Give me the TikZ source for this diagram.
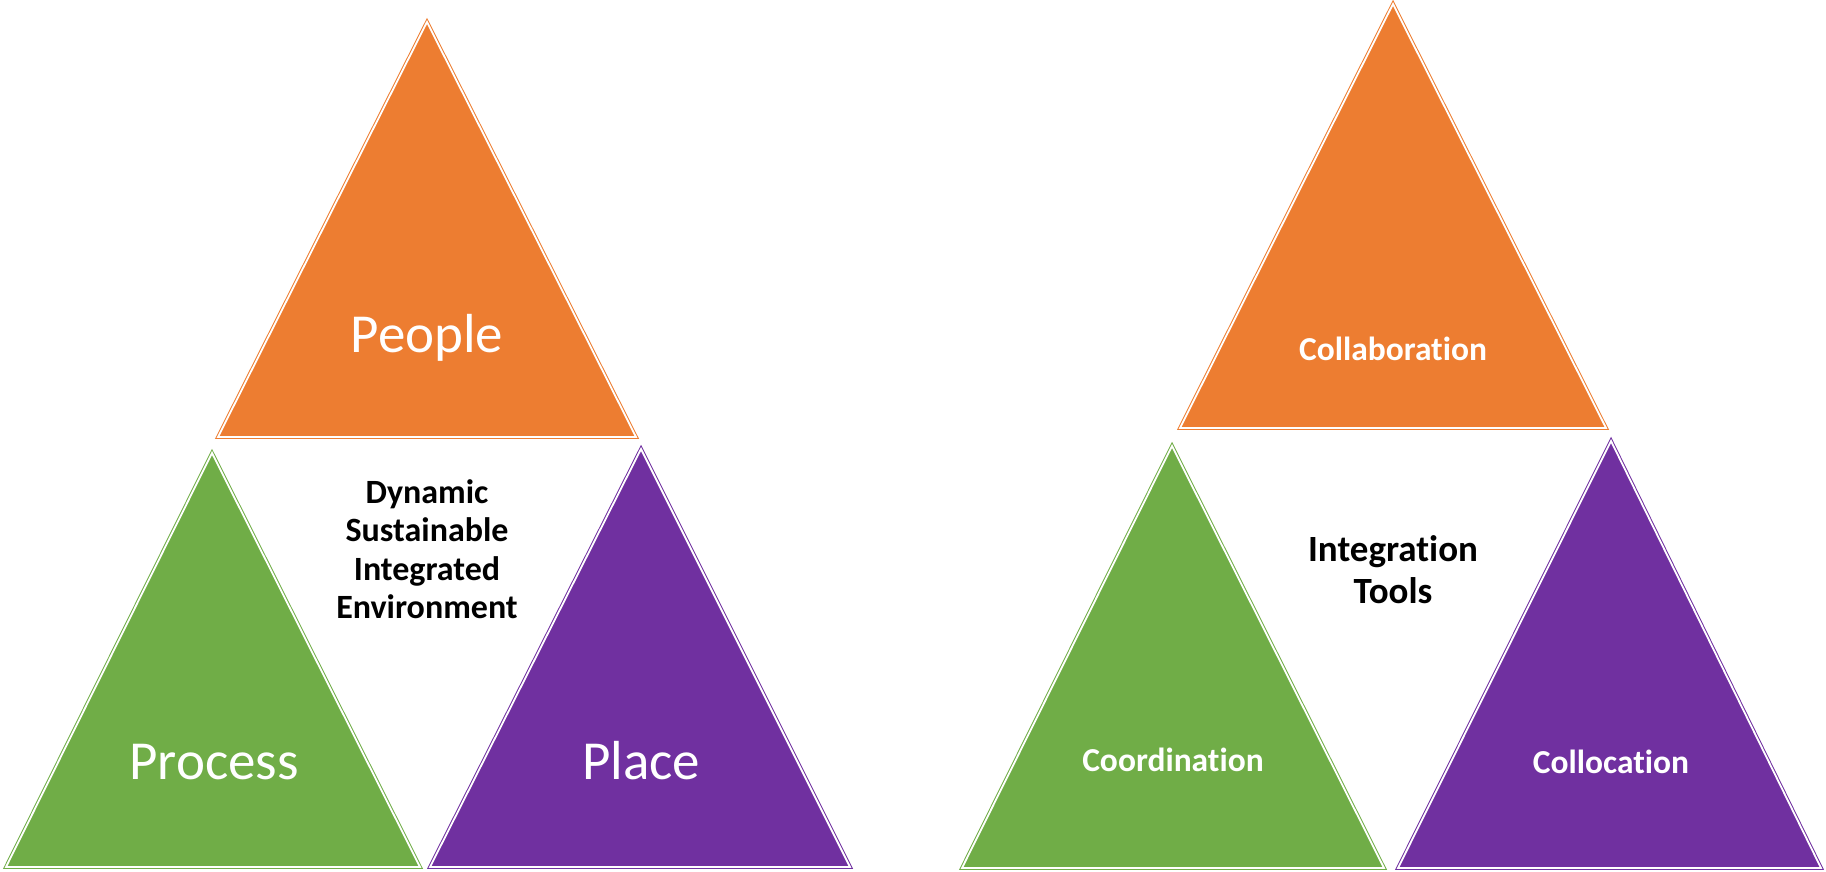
\documentclass[tikz,border=0pt]{standalone}
\usepackage{fontspec}
\setmainfont[Ligatures=NoCommon]{Carlito}
\definecolor{corange}{HTML}{ED7D31}
\definecolor{cgreen}{HTML}{70AD47}
\definecolor{cpurple}{HTML}{7030A0}
\begin{document}
\begin{tikzpicture}[x=1pt,y=-1pt,
  tri/.style={fill=#1, draw=#1, double=white, double distance=1.8pt, line width=1pt, line join=miter},
  bigtext/.style={text=white, font=\fontsize{55}{66}\selectfont, inner sep=0, anchor=base},
  smalltext/.style={text=white, font=\bfseries\fontsize{33.5}{40}\selectfont, inner sep=0, anchor=base},
  midtext/.style={text=black, font=\bfseries\fontsize{#1}{#1}\selectfont, inner sep=0, align=center}]
\useasboundingbox (0,0) rectangle (1826,871);
% left group vertices
\coordinate (pa) at (427,22);  \coordinate (pl) at (218,437);  \coordinate (pr) at (636,437);
\coordinate (ra) at (212,453); \coordinate (rl) at (6,867);    \coordinate (rr) at (420,867);
\coordinate (la) at (641,449); \coordinate (ll) at (430,867);  \coordinate (lr) at (850,867);
% right group vertices
\coordinate (ca) at (1393,4);  \coordinate (cl) at (1180,428); \coordinate (cr) at (1606,428);
\coordinate (oa) at (1172,446);\coordinate (ol) at (962,868);  \coordinate (or) at (1384,868);
\coordinate (ka) at (1611,441);\coordinate (kl) at (1398,868); \coordinate (kr) at (1821,868);
\draw[tri=corange] (pa) -- (pl) -- (pr) -- cycle;
\draw[tri=cgreen]  (ra) -- (rl) -- (rr) -- cycle;
\draw[tri=cpurple] (la) -- (ll) -- (lr) -- cycle;
\draw[tri=corange] (ca) -- (cl) -- (cr) -- cycle;
\draw[tri=cgreen]  (oa) -- (ol) -- (or) -- cycle;
\draw[tri=cpurple] (ka) -- (kl) -- (kr) -- cycle;
% labels
\node[bigtext] (people) at (427,352) {People};
\node[bigtext] (process) at (214,779) {Process};
\node[bigtext] (place) at (641,779) {Place};
\node[midtext=34, execute at begin node={\setlength{\baselineskip}{38.5pt}}] (dsie) at (427,549) {Dynamic\\Sustainable\\Integrated\\Environment};
\node[smalltext] (collab) at (1393,360) {Collaboration};
\node[smalltext] (coord) at (1173,771) {Coordination};
\node[smalltext] (coloc) at (1611,773) {Collocation};
\node[midtext=37, execute at begin node={\setlength{\baselineskip}{42pt}}] (itools) at (1393,570) {Integration\\Tools};
\end{tikzpicture}
\end{document}
